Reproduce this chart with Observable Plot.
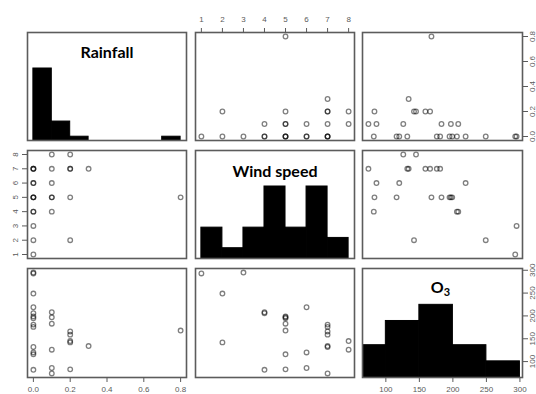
<!DOCTYPE html>
<html><head><meta charset="utf-8">
<script src="https://cdn.jsdelivr.net/npm/d3@7"></script>
<script src="https://cdn.jsdelivr.net/npm/@observablehq/plot@0.6"></script>
<style>
html,body{margin:0;padding:0;background:#fff;}
#chart{position:relative;width:536px;height:394px;overflow:hidden;background:#fff;}
#chart svg{position:absolute;left:0;top:0;}
</style></head><body><div id="chart"></div>
<script>
// observations (one entry per day)
const rainfall  = [0,0,0.2,0,0,0,0.1,0.8,0.2,0.1,0.1,0,0,0,0.1,0,0,0.1,0.3,0,0.2,0.2,0,0,0.1,0.2];
const windSpeed = [1,2,2,3,4,4,4,5,5,5,5,5,5,5,6,6,6,7,7,7,7,7,7,7,8,8];
const ozone     = [293,249,142,295,82,206,208,168,83,183,197,116,195,199,86,120,219,74,134,132,159,166,176,181,126,145];
const varNames  = ["Rainfall","Wind speed","O3"];
const rainTicks  = [0,0.2,0.4,0.6,0.8];
const windTicks  = [1,2,3,4,5,6,7,8];
const ozoneTicks = [100,150,200,250,300];
const rainBreaks  = [0,0.1,0.2,0.3,0.4,0.5,0.6,0.7,0.8];
const windBreaks  = [1,2,3,4,5,6,7,8];
const ozoneBreaks = [50,100,150,200,250,300];

const W = 536, H = 394;
const colX = [[27,186],[195,354],[362,522]];
const rowY = [[32,140],[150,258],[268,377]];
const AX = "#5a5a5a";

const vars = [
  {values: rainfall, ticks: rainTicks, fmt: d3.format(".1f"), breaks: rainBreaks},
  {values: windSpeed, ticks: windTicks, fmt: d3.format("d"), breaks: windBreaks},
  {values: ozone, ticks: ozoneTicks, fmt: d3.format("d"), breaks: ozoneBreaks}
];
const ext = v => { const [a,b] = d3.extent(v); const r = b - a; return [a - 0.04*r, b + 0.04*r]; };

function rHist(values, breaks) {
  const out = [];
  for (let i = 0; i < breaks.length - 1; i++) {
    const lo = breaks[i], hi = breaks[i+1];
    const c = values.filter(v => (i === 0 ? v >= lo : v > lo) && v <= hi).length;
    out.push({x1: lo, x2: hi, c});
  }
  const m = d3.max(out, d => d.c);
  out.forEach(d => d.h = d.c / m);
  return out;
}

// axis placement like R pairs()
const xAxisAt = {"0,1": "top", "2,0": "bottom", "2,2": "bottom"};
const yAxisAt = {"0,2": "right", "1,0": "left", "2,2": "right"};

function axisX(v, anchor) {
  return Plot.axisX(v.ticks, {anchor, tickSize: 5, tickPadding: anchor === "top" ? 6 : 4, tickFormat: v.fmt, color: AX, stroke: AX, fill: AX});
}
function axisY(v, anchor) {
  return Plot.axisY(v.ticks, {anchor, tickSize: 5, tickPadding: anchor === "left" ? 5 : 2, tickRotate: -90,
    lineAnchor: anchor === "left" ? "bottom" : "top", tickFormat: v.fmt, color: AX, stroke: AX, fill: AX});
}

function makePlot(row, col, xDomain, yDomain, marks) {
  return Plot.plot({
    width: W, height: H,
    marginLeft: colX[col][0], marginRight: W - colX[col][1],
    marginTop: rowY[row][0], marginBottom: H - rowY[row][1],
    x: {domain: xDomain, axis: null},
    y: {domain: yDomain, axis: null},
    style: {background: "transparent", fontFamily: "Liberation Sans, Arial, sans-serif", fontSize: "8px", color: AX},
    marks
  });
}

const chart = document.getElementById("chart");
const idx = d3.range(rainfall.length);

for (let row = 0; row < 3; row++) {
  for (let col = 0; col < 3; col++) {
    const key = row + "," + col;
    const xv = vars[col], yv = vars[row];
    const xDom = ext(xv.values);
    if (row === col) {
      const bins = rHist(xv.values, xv.breaks);
      const marks = [
        Plot.rect(bins, {x1: "x1", x2: "x2", y1: 0, y2: "h", fill: "black", stroke: "black", clip: true}),
        Plot.text([varNames[row]], {frameAnchor: "top", dy: row === 1 ? 21 : (row === 2 ? 19 : 20), dx: row === 2 ? -2 : 0,
          lineAnchor: "middle", fontWeight: "bold", fontSize: 16, fontFamily: "Lato", fill: "black"}),
        Plot.frame({stroke: "#5c5c5c", strokeWidth: 1.6})
      ];
      if (xAxisAt[key]) marks.push(axisX(xv, xAxisAt[key]));
      chart.appendChild(makePlot(row, col, xDom, [0, 1.5], marks));
      if (yAxisAt[key]) {
        chart.appendChild(makePlot(row, col, xDom, ext(yv.values), [axisY(yv, yAxisAt[key])]));
      }
    } else {
      const xs = xv.values, ys = yv.values;
      const marks = [
        Plot.dot(idx, {x: i => xs[i], y: i => ys[i], r: 2.3, stroke: "#000", strokeOpacity: 0.5, strokeWidth: 1.3}),
        Plot.frame({stroke: "#5c5c5c", strokeWidth: 1.6})
      ];
      if (xAxisAt[key]) marks.push(axisX(xv, xAxisAt[key]));
      if (yAxisAt[key]) marks.push(axisY(yv, yAxisAt[key]));
      chart.appendChild(makePlot(row, col, xDom, ext(yv.values), marks));
    }
  }
}

// subscript for O3 title
d3.select(chart).selectAll("text").filter(function() { return this.textContent === "O3"; }).each(function() {
  const t = d3.select(this);
  t.text("O");
  t.append("tspan").attr("dy", "0.3em").attr("font-size", "11px").text("3");
});
</script></body></html>
